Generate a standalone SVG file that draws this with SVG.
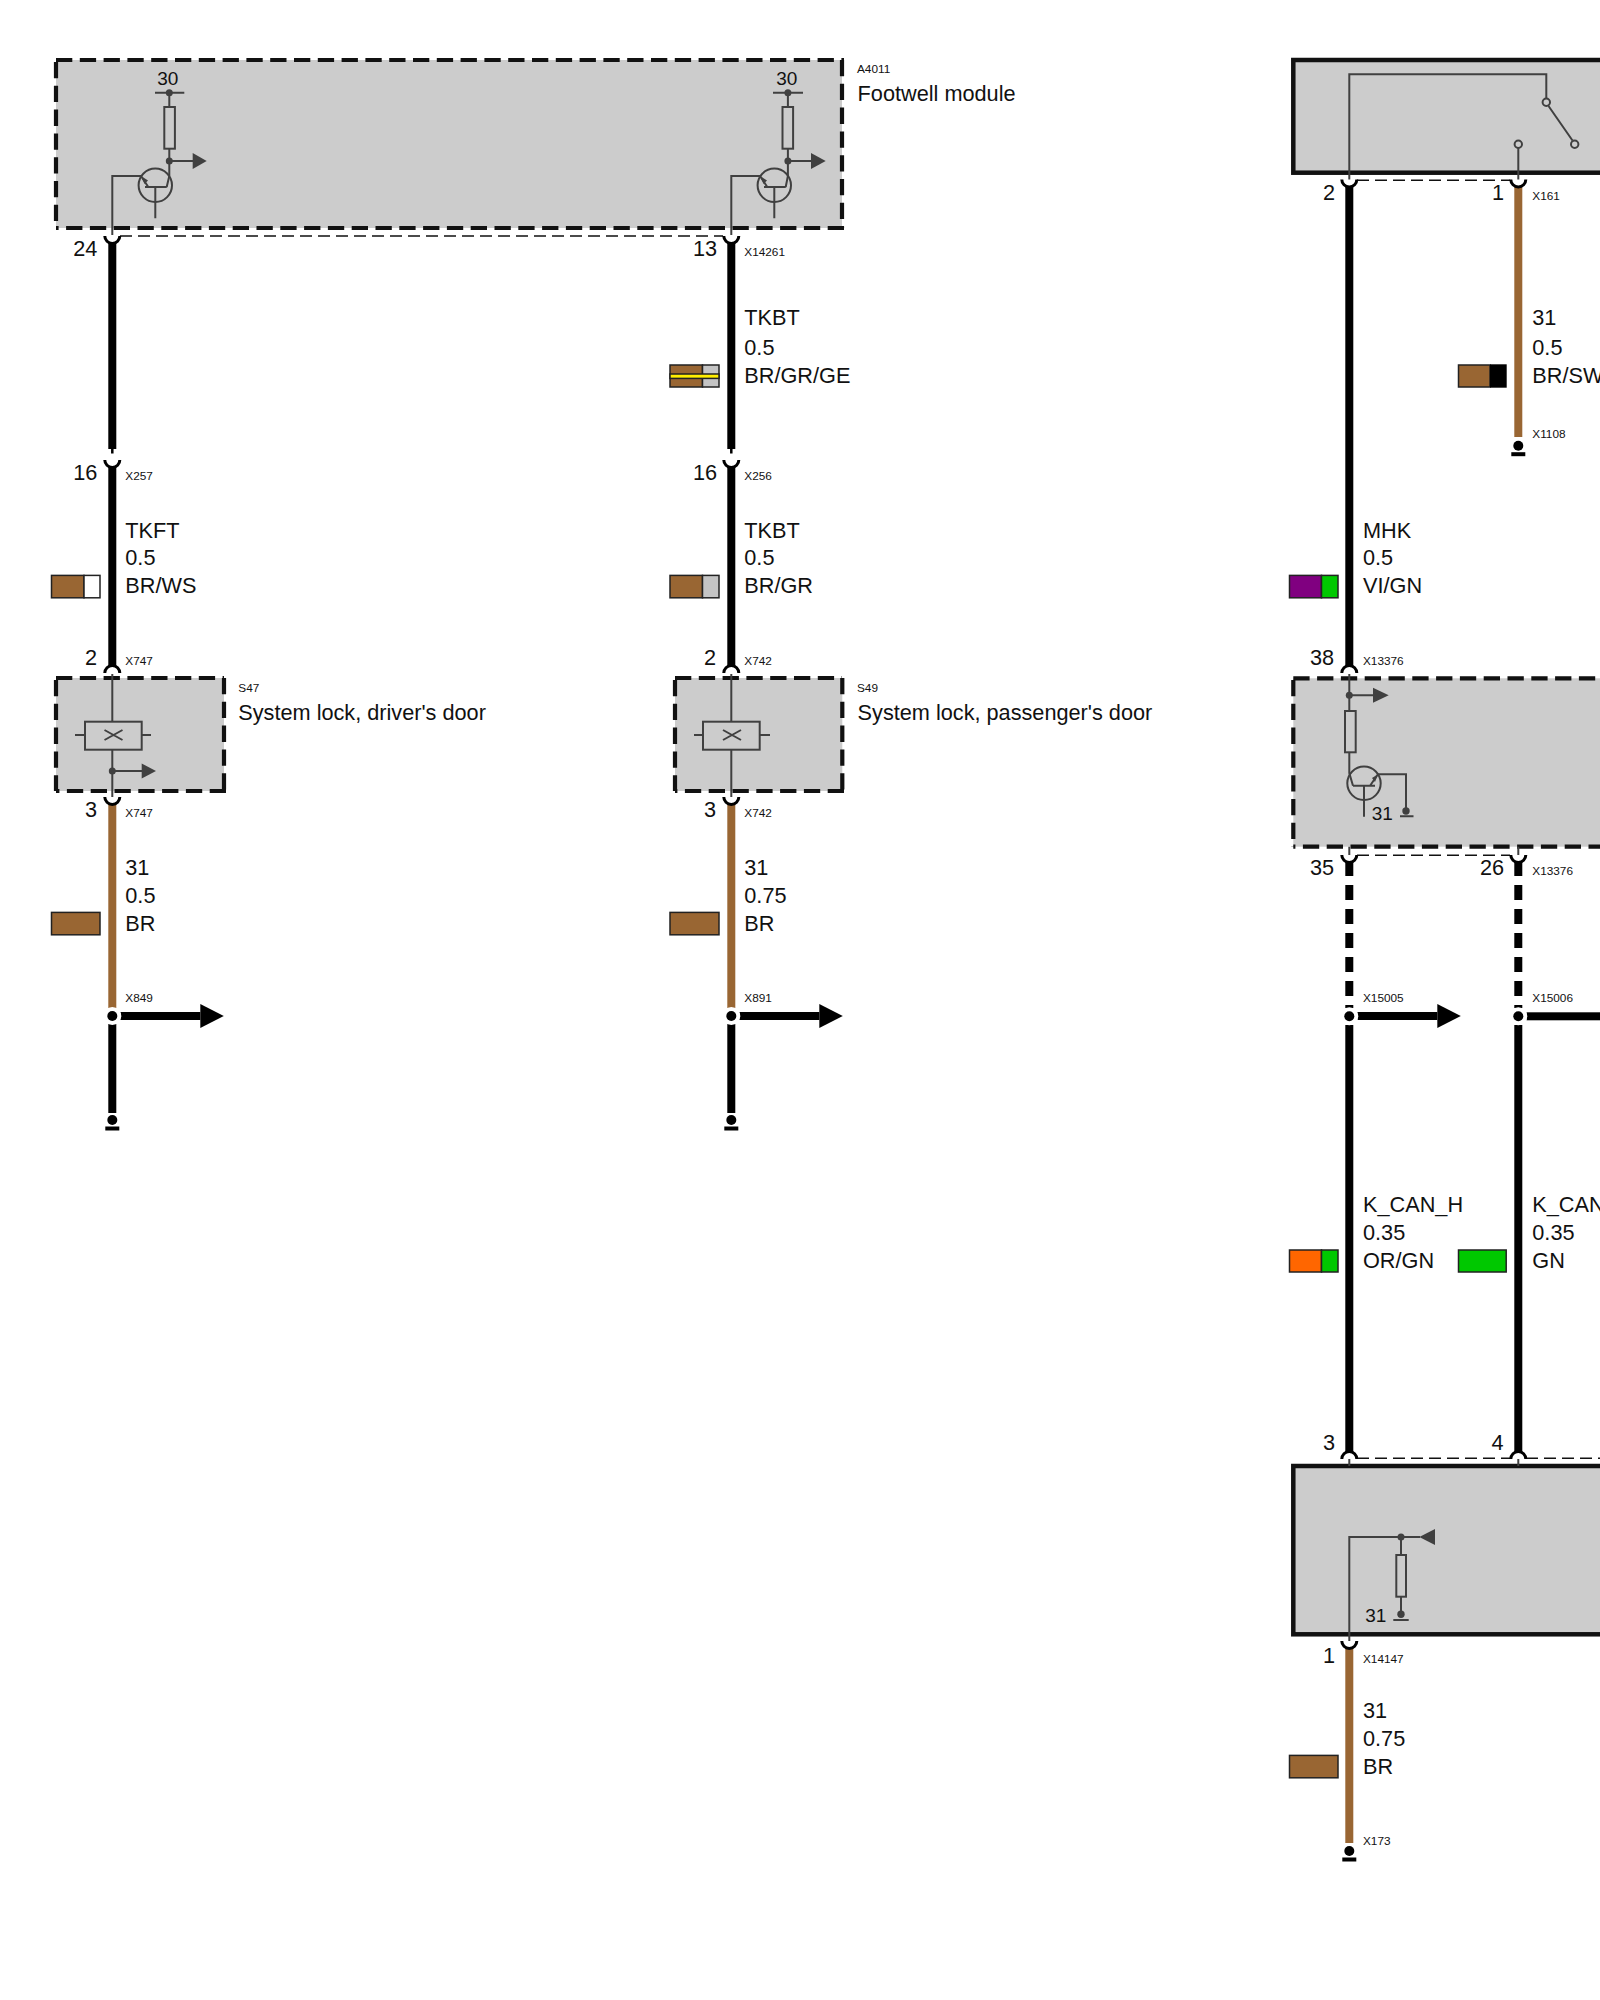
<svg xmlns="http://www.w3.org/2000/svg" xmlns:xlink="http://www.w3.org/1999/xlink" width="1600" height="2000" viewBox="0 0 1600 2000">
<style>
text{font-family:"Liberation Sans",Arial,sans-serif;fill:#111}
.t{font-size:21.7px}.m{font-size:19px}.s{font-size:11.8px}.e{text-anchor:end}
.box{fill:#ccc;stroke:none}
.dash{fill:none;stroke:#111;stroke-width:4.2;stroke-dasharray:16.3 7.5}
.solid{fill:#ccc;stroke:#111;stroke-width:4.5}
.in{fill:none;stroke:#404040;stroke-width:2}
.res{fill:#ccc;stroke:#404040;stroke-width:2}
.fd{fill:#404040;stroke:none}
.oc{fill:#ccc;stroke:#404040;stroke-width:2}
.k{stroke:#000;stroke-width:8;fill:none}
.b{stroke:#996633;stroke-width:8;fill:none}
.kd{stroke:#000;stroke-width:8;fill:none;stroke-dasharray:15 9}
.stub{stroke:#000;stroke-width:2.5;fill:none}
.cup{fill:#fff;stroke:#000;stroke-width:3}
.harn{stroke:#111;stroke-width:1.6;fill:none;stroke-dasharray:12 6}
.sw{stroke:#222;stroke-width:1.5}
.halo{fill:#fff}
.bk{fill:#000;stroke:none}
</style>
<defs>
<path id="cu" d="M-7.5 0A7.5 7.5 0 0 0 7.5 0" class="cup"/>
<path id="ca" d="M-7.5 0A7.5 7.5 0 0 1 7.5 0" class="cup"/>
<g id="bigarrow"><rect x="8" y="-4" width="80" height="8" class="bk"/><path d="M88 -12L111.5 0L88 12Z" class="bk"/></g>
<g id="ground"><circle r="5" class="bk"/><rect x="-7" y="6.5" width="14" height="4" class="bk"/></g>
<g id="junction"><circle r="9" class="halo"/><circle r="5" class="bk"/></g>
</defs>

<g id="connectors">
<path class="harn" d="M120 236H723"/>
<path class="harn" d="M1357 180.3H1510"/>
<path class="harn" d="M1357 855.3H1510"/>
<path class="harn" d="M1357 1458.3H1510M1526 1458.3H1600"/>
<path class="k" d="M112.3 243V449M731.3 243V449"/>
<path class="stub" d="M112.3 449V453.5M731.3 449V453.5"/>
<path class="k" d="M112.3 467V667M731.3 467V667"/>
<path class="b" d="M112.3 804V1008M731.3 804V1008"/>
<path class="k" d="M112.3 1024V1113M731.3 1024V1113"/>
<path class="k" d="M1349.3 186V667"/>
<path class="b" d="M1518.3 186V437"/>
<path class="kd" d="M1349.3 861V1008M1518.3 861V1008"/>
<path class="k" d="M1349.3 1025V1452M1518.3 1025V1452"/>
<path class="b" d="M1349.3 1648V1843"/>
<use href="#bigarrow" x="112.3" y="1016"/>
<use href="#bigarrow" x="731.3" y="1016"/>
<use href="#bigarrow" x="1349.3" y="1016"/>
<rect x="1526.5" y="1012.3" width="80" height="8" class="bk"/>
</g>

<g id="A4011">
<rect class="box" x="56" y="60" width="786" height="168"/>
<path class="dash" d="M56 60H844M56 62V228M842 60V228M844 228H56"/>
<path class="in" d="M112.3 235V176H141"/>
<path class="in" d="M141 176L148.3 187M145 187H166.7M155.3 187V218.3M166.7 187L169.3 176V92.7M155 92.7H184.3M169.3 161H193"/>
<circle class="in" cx="155.3" cy="185.3" r="16.7"/>
<rect class="res" x="164.3" y="107" width="10.6" height="41.7"/>
<circle class="fd" cx="169.3" cy="92.7" r="3.5"/><circle class="fd" cx="169.3" cy="161" r="3.5"/>
<path class="fd" d="M192.7 153L206.7 161L192.7 169Z"/>
<path class="fd" d="M141 176L148 180.5L144.5 184Z"/>
<text class="m" x="167.7" y="85" text-anchor="middle">30</text>
<path class="in" d="M731.3 235V176H760"/>
<path class="in" d="M760 176L767.3 187M764 187H785.7M774.3 187V218.3M785.7 187L787.9 176V92.7M773 92.7H803M787.9 161H812"/>
<circle class="in" cx="774.3" cy="185.3" r="16.7"/>
<rect class="res" x="782.5" y="107" width="10.6" height="41.7"/>
<circle class="fd" cx="787.9" cy="92.7" r="3.5"/><circle class="fd" cx="787.9" cy="161" r="3.5"/>
<path class="fd" d="M811 153L825.7 161L811 169Z"/>
<path class="fd" d="M760 176L767 180.5L763.5 184Z"/>
<text class="m" x="786.7" y="85" text-anchor="middle">30</text>
<text class="s" x="857" y="73.3">A4011</text>
<text class="t" x="857.6" y="101">Footwell module</text>
</g>

<g id="S47">
<rect class="box" x="56" y="678" width="168" height="113"/>
<path class="dash" d="M56 678H224M56 680V791M224 678V791M226 791H56"/>
<rect class="res" x="85" y="721.7" width="56.7" height="28"/>
<path class="in" d="M112.3 674V722M112.3 750V798M75 735H85M142 735H151M104.5 730L122.5 740M104.5 740L122.5 730M112.3 771H142"/>
<circle class="fd" cx="112.3" cy="771" r="3.5"/>
<path class="fd" d="M141.7 763.5L156 771L141.7 778.5Z"/>
<text class="s" x="238.3" y="691.7">S47</text>
<text class="t" x="238.3" y="719.8">System lock, driver's door</text>
</g>

<g id="S49">
<rect class="box" x="675" y="678" width="167.3" height="113"/>
<path class="dash" d="M675 678H842M675 680V791M842.3 678V791M844 791H675"/>
<rect class="res" x="703" y="721.7" width="56.7" height="28"/>
<path class="in" d="M731.3 674V722M731.3 750V798M694 735H703M760 735H770M723 730L741 740M723 740L741 730"/>
<text class="s" x="857" y="691.7">S49</text>
<text class="t" x="857.6" y="719.8">System lock, passenger's door</text>
</g>

<g id="switch">
<rect class="solid" x="1293.3" y="60" width="400" height="112.7"/>
<path class="in" d="M1349.3 180V74.3H1546.3V98M1548.5 106L1572.5 140.5M1518.3 148V180"/>
<circle class="oc" cx="1546.3" cy="102.3" r="3.7"/>
<circle class="oc" cx="1574.7" cy="144.3" r="3.7"/>
<circle class="oc" cx="1518.3" cy="144.3" r="3.7"/>
</g>

<g id="module-x13376">
<rect class="box" x="1293.3" y="678.3" width="400" height="168.4"/>
<path class="dash" d="M1293.3 678.3H1700M1293.3 680V846.7M1700 846.7H1293.3"/>
<path class="in" d="M1349.3 674V773L1353 785.7M1349.3 695.3H1373M1353 785.7H1375M1364 785.7V816.7M1370 785.7L1378 774.3H1406V808M1400 816.3H1413.5M1349.3 846.7V855M1518.3 846.7V855"/>
<circle class="in" cx="1364" cy="783.3" r="16.7"/>
<rect class="res" x="1345" y="711" width="10.7" height="41.3"/>
<circle class="fd" cx="1349.3" cy="695.3" r="3.5"/>
<circle class="fd" cx="1406" cy="811" r="3.7"/>
<path class="fd" d="M1373 687.8L1388.7 695.3L1373 702.8Z"/>
<path class="fd" d="M1378 774.3L1372 778L1375 782Z"/>
<text class="m" x="1371.7" y="820.2">31</text>
</g>

<g id="module-x14147">
<rect class="solid" x="1293.3" y="1466" width="400" height="168.3"/>
<path class="in" d="M1349.3 1641V1537H1420M1401 1537V1555M1401 1596.7V1614M1393.3 1620H1408.7M1349.3 1458V1466M1518.3 1458V1466"/>
<rect class="res" x="1396.3" y="1555" width="9.7" height="41.7"/>
<circle class="fd" cx="1401" cy="1537" r="3.5"/>
<circle class="fd" cx="1401" cy="1614.3" r="3.7"/>
<path class="fd" d="M1419.3 1537L1435 1529V1545Z"/>
<text class="m" x="1365.3" y="1622.2">31</text>
</g>

<g id="terminals">
<use href="#cu" x="112.3" y="236"/><use href="#cu" x="731.3" y="236"/>
<use href="#cu" x="112.3" y="460"/><use href="#cu" x="731.3" y="460"/>
<use href="#ca" x="112.3" y="673"/><use href="#ca" x="731.3" y="673"/>
<use href="#cu" x="112.3" y="797"/><use href="#cu" x="731.3" y="797"/>
<use href="#cu" x="1349.3" y="179.5"/><use href="#cu" x="1518.3" y="179.5"/>
<use href="#ca" x="1349.3" y="673"/>
<use href="#cu" x="1349.3" y="855"/><use href="#cu" x="1518.3" y="855"/>
<use href="#ca" x="1349.3" y="1459"/><use href="#ca" x="1518.3" y="1459"/>
<use href="#cu" x="1349.3" y="1641"/>
<use href="#junction" x="112.3" y="1016"/><use href="#junction" x="731.3" y="1016"/>
<use href="#junction" x="1349.3" y="1016.3"/><use href="#junction" x="1518.3" y="1016.3"/>
<use href="#ground" x="112.3" y="1120"/><use href="#ground" x="731.3" y="1120"/>
<use href="#ground" x="1518.3" y="445.7"/><use href="#ground" x="1349.3" y="1851"/>
</g>

<g id="swatches">
<rect class="sw" x="51.5" y="575.4" width="32.5" height="22.4" fill="#996633"/><rect class="sw" x="84" y="575.4" width="16" height="22.4" fill="#fff"/>
<rect class="sw" x="51.5" y="912.4" width="48.5" height="22.4" fill="#996633"/>
<rect class="sw" x="670" y="365" width="32.5" height="22" fill="#996633"/><rect class="sw" x="702.5" y="365" width="16.5" height="22" fill="#c4c4c4"/>
<rect class="sw" x="670" y="374" width="49" height="4.4" fill="#ffee00"/>
<rect class="sw" x="670" y="575.4" width="32.5" height="22.4" fill="#996633"/><rect class="sw" x="702.5" y="575.4" width="16.5" height="22.4" fill="#c4c4c4"/>
<rect class="sw" x="670" y="912.4" width="49" height="22.4" fill="#996633"/>
<rect class="sw" x="1458.5" y="365" width="31.5" height="22" fill="#996633"/><rect x="1490" y="364.3" width="16.7" height="23.4" fill="#000"/>
<rect class="sw" x="1289.5" y="575.4" width="32" height="22.4" fill="#800080"/><rect class="sw" x="1321.5" y="575.4" width="16.5" height="22.4" fill="#00c800"/>
<rect class="sw" x="1289.5" y="1250" width="32" height="22" fill="#ff6600"/><rect class="sw" x="1321.5" y="1250" width="16.5" height="22" fill="#00c800"/>
<rect class="sw" x="1458.5" y="1250" width="47.7" height="22" fill="#00c800"/>
<rect class="sw" x="1289.5" y="1755.4" width="48.5" height="22.4" fill="#996633"/>
</g>

<g id="labels">
<text class="t e" x="97.4" y="256">24</text>
<text class="t e" x="717" y="256">13</text>
<text class="s" x="744.3" y="256">X14261</text>
<text class="t" x="744.3" y="325">TKBT</text><text class="t" x="744.3" y="355">0.5</text><text class="t" x="744.3" y="382.7">BR/GR/GE</text>
<text class="t e" x="97.4" y="480">16</text><text class="s" x="125.3" y="480">X257</text>
<text class="t e" x="717" y="480">16</text><text class="s" x="744.3" y="480">X256</text>
<text class="t" x="125.3" y="538">TKFT</text><text class="t" x="125.3" y="564.7">0.5</text><text class="t" x="125.3" y="592.7">BR/WS</text>
<text class="t" x="744.3" y="538">TKBT</text><text class="t" x="744.3" y="564.7">0.5</text><text class="t" x="744.3" y="592.7">BR/GR</text>
<text class="t e" x="97" y="665">2</text><text class="s" x="125.3" y="665">X747</text>
<text class="t e" x="716" y="665">2</text><text class="s" x="744.3" y="665">X742</text>
<text class="t e" x="97" y="816.7">3</text><text class="s" x="125.3" y="816.7">X747</text>
<text class="t e" x="716" y="816.7">3</text><text class="s" x="744.3" y="816.7">X742</text>
<text class="t" x="125.3" y="875">31</text><text class="t" x="125.3" y="902.7">0.5</text><text class="t" x="125.3" y="930.7">BR</text>
<text class="t" x="744.3" y="875">31</text><text class="t" x="744.3" y="902.7">0.75</text><text class="t" x="744.3" y="930.7">BR</text>
<text class="s" x="125.3" y="1001.7">X849</text><text class="s" x="744.3" y="1001.7">X891</text>
<text class="t e" x="1335" y="200">2</text><text class="t e" x="1504" y="200">1</text><text class="s" x="1532.3" y="200">X161</text>
<text class="t" x="1532.3" y="324.7">31</text><text class="t" x="1532.3" y="355">0.5</text><text class="t" x="1532.3" y="382.7">BR/SW</text>
<text class="s" x="1532.3" y="437.7">X1108</text>
<text class="t" x="1363" y="538">MHK</text><text class="t" x="1363" y="564.7">0.5</text><text class="t" x="1363" y="592.7">VI/GN</text>
<text class="t e" x="1334" y="665">38</text><text class="s" x="1363" y="665">X13376</text>
<text class="t e" x="1334" y="875">35</text><text class="t e" x="1504" y="875">26</text><text class="s" x="1532.3" y="875">X13376</text>
<text class="s" x="1363" y="1001.7">X15005</text><text class="s" x="1532.3" y="1001.7">X15006</text>
<text class="t" x="1363" y="1212.3">K_CAN_H</text><text class="t" x="1363" y="1240">0.35</text><text class="t" x="1363" y="1267.7">OR/GN</text>
<text class="t" x="1532.3" y="1212.3">K_CAN_L</text><text class="t" x="1532.3" y="1240">0.35</text><text class="t" x="1532.3" y="1267.7">GN</text>
<text class="t e" x="1335" y="1450">3</text><text class="t e" x="1503.5" y="1450">4</text>
<text class="t e" x="1335" y="1662.7">1</text><text class="s" x="1363" y="1662.7">X14147</text>
<text class="t" x="1363" y="1717.7">31</text><text class="t" x="1363" y="1745.7">0.75</text><text class="t" x="1363" y="1774">BR</text>
<text class="s" x="1363" y="1845">X173</text>
</g>
</svg>
